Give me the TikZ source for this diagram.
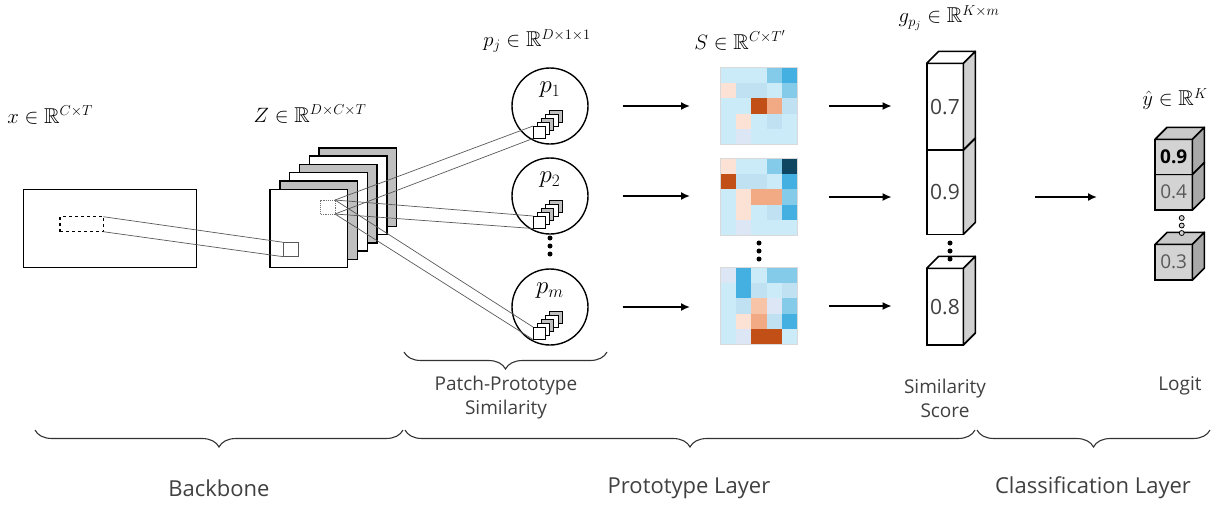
\documentclass[tikz,border=0pt]{standalone}
\usepackage{amssymb}
\usepackage[no-math]{fontspec}
\newfontfamily\lab{Open Sans}
\usetikzlibrary{arrows.meta,decorations.pathreplacing,calc}
\definecolor{hL}{HTML}{CCEBF9}
\definecolor{hM}{HTML}{C0E1F2}
\definecolor{hB}{HTML}{84CBEA}
\definecolor{hD}{HTML}{44B0E1}
\definecolor{hN}{HTML}{0E4561}
\definecolor{hP}{HTML}{FCE1D5}
\definecolor{hW}{HTML}{DCE6F4}
\definecolor{hO}{HTML}{C14F16}
\definecolor{hS}{HTML}{F2AA85}
\definecolor{hT}{HTML}{F7C4A8}
\definecolor{zg}{HTML}{BFBFBF}
\definecolor{txt}{HTML}{404040}
\definecolor{sideg}{HTML}{D0D0D0}
\definecolor{lgf}{HTML}{D3D3D3}
\definecolor{lgs}{HTML}{A9A9A9}
\definecolor{lgt}{HTML}{C9C9C9}
\tikzset{
  mlabel/.style={font=\fontsize{21.5}{24}\selectfont, inner sep=0},
  plabel/.style={font=\fontsize{25}{27}\selectfont, inner sep=0},
  tlabel/.style={font=\lab\fontsize{19}{24}\selectfont, text=txt, align=center, inner sep=0},
  blabel/.style={font=\lab\fontsize{22}{26}\selectfont, text=txt, inner sep=0},
  arr/.style={-{Latex[length=9pt,width=8pt]}, line width=1.8pt},
  thinln/.style={draw=black!65, line width=0.7pt},
  sheet/.style={draw, line width=1.4pt, minimum width=77.7pt, minimum height=78.4pt, inner sep=0, outer sep=0},
  hm/.style={minimum size=77.5pt, inner sep=0, outer sep=0},
  pcirc/.style={circle, draw, line width=1.4pt, minimum size=76pt, inner sep=0},
  psq/.style={draw, line width=1pt, fill=white, minimum size=12.5pt, inner sep=0, outer sep=0},
  bracedec/.style={decorate, decoration={brace, mirror, amplitude=17pt}, line width=1.1pt, draw=black!80},
  dotb/.style={circle, fill=black, inner sep=0, minimum size=5pt},
  doth/.style={circle, draw=black, fill=lgf, line width=0.8pt, inner sep=0, minimum size=5pt},
}
% name, x, y, width, height, front, side, top, text
\newcommand{\mycube}[9]{%
  \node[draw, line width=1.6pt, fill=#6, minimum width=#4, minimum height=#5, inner sep=0, outer sep=0] (#1) at (#2,#3) {#9};
  \draw[line width=1.6pt, line join=round, fill=#8] (#1.north west) -- ++(12,-12) -- ($(#1.north east)+(12,-12)$) -- (#1.north east) -- cycle;
  \draw[line width=1.6pt, line join=round, fill=#7] (#1.north east) -- ++(12,-12) -- ($(#1.south east)+(12,-12)$) -- (#1.south east) -- cycle;
}
\newcommand{\heatmap}[2]{%
  \foreach \row [count=\r from 0] in {#2} {
    \foreach \c [count=\k from 0] in \row {
      \fill[\c] ($(#1.north west)+(\k*15.5,\r*15.5)$) rectangle ++(15.5,15.5);
    }
  }
  \draw[black!15, line width=0.6pt] (#1.north west) rectangle (#1.south east);
}
\begin{document}
\begin{tikzpicture}[x=1pt,y=-1pt]
\useasboundingbox (0,0) rectangle (1217,504);

% ---------- input ----------
\node[mlabel] (xl) at (50,115) {$x \in \mathbb{R}^{C\times T}$};
\node[draw, line width=1.4pt, minimum width=173.4pt, minimum height=78.4pt, inner sep=0, outer sep=0] (xin) at (110,228.5) {};
\node[draw, dashed, line width=1.4pt, minimum width=43.3pt, minimum height=15pt, inner sep=0, outer sep=0] (xs) at (81.65,224.2) {};

% ---------- Z stack ----------
\node[mlabel] (zl) at (310,114) {$Z \in \mathbb{R}^{D\times C\times T}$};
\foreach \i/\f in {5/zg,4/white,3/zg,2/white,1/zg,0/white}
  \node[sheet, fill=\f] (z\i) at (308.85+9.8*\i, 228.5-8.3*\i) {};
\node[draw=black!65, line width=0.8pt, minimum width=15pt, minimum height=14.4pt, inner sep=0, outer sep=0] (zs) at (290.8,249.5) {};
\node[draw=black!55, densely dotted, line width=0.9pt, minimum width=14.3pt, minimum height=14pt, inner sep=0, outer sep=0] (zp) at (327.85,207) {};
\draw[thinln] (xs.north east) -- (zs.north west);
\draw[thinln] (xs.south east) -- (zs.south west);

% ---------- prototypes ----------
\node[mlabel] (pl) at (537,41) {$p_j \in \mathbb{R}^{D\times 1\times 1}$};
\foreach \k/\y/\lbl in {1/106/p_1, 2/196/p_2, 3/307/p_m} {
  \node[pcirc] (c\k) at (550,\y) {};
  \node[plabel] (cl\k) at ($(c\k)+(0,-16)$) {$\lbl$};
  \node[psq] (q\k) at ($(c\k)+(-10.75,26.25)$) {};
  \draw[thinln] (zp.north east) -- (q\k.north west);
  \draw[thinln] (zp.south east) -- (q\k.south west);
  \foreach \i/\f in {4/zg,3/white,2/zg,1/white}
    \draw[line width=0.9pt, fill=\f] ($(q\k.north west)+(4.2*\i,-3.9*\i)$) rectangle ++(12.5,12.5);
  \node[psq] at (q\k) {};
}
\foreach \d in {0,8,16} \node[dotb] at (550,238+\d) {};

% ---------- heatmaps ----------
\node[mlabel] (sl) at (740,40) {$S \in \mathbb{R}^{C\times T'}$};
\node[hm] (h1) at (758.8,106) {};
\node[hm] (h2) at (758.8,197) {};
\node[hm] (h3) at (758.8,306) {};
\heatmap{h1}{{hL,hL,hL,hB,hD},{hP,hM,hM,hL,hB},{hL,hL,hO,hS,hM},{hL,hP,hL,hM,hL},{hL,hW,hL,hL,hL}}
\heatmap{h2}{{hP,hL,hL,hB,hN},{hO,hM,hM,hL,hD},{hL,hP,hS,hS,hB},{hL,hP,hL,hM,hD},{hL,hW,hL,hL,hL}}
\heatmap{h3}{{hW,hD,hL,hB,hB},{hL,hD,hM,hL,hM},{hL,hM,hT,hW,hB},{hL,hP,hS,hM,hD},{hL,hW,hO,hO,hL}}
\foreach \d in {0,8,16} \node[dotb] at (759,243+\d) {};

\foreach \k in {1,2,3}
  \draw[arr, shorten <=34pt, shorten >=30pt] (c\k.east) -- (c\k.east -| h\k.west);

% ---------- similarity scores ----------
\node[mlabel] (gl) at (949,18) {$g_{p_j} \in \mathbb{R}^{K\times m}$};
\mycube{s3}{945}{306.7}{36.6pt}{76.7pt}{white}{sideg}{white}{\lab\fontsize{21}{22}\selectfont\color{txt}0.8}
\mycube{s2}{945}{192.2}{36.6pt}{84.3pt}{white}{sideg}{white}{\lab\fontsize{21}{22}\selectfont\color{txt}0.9}
\mycube{s1}{945}{106.7}{36.6pt}{86.7pt}{white}{sideg}{white}{\lab\fontsize{21}{22}\selectfont\color{txt}0.7}
\foreach \d in {0,8,16} \node[dotb] at (950,243+\d) {};

\foreach \k in {1,2,3}
  \draw[arr, shorten <=31.5pt, shorten >=35pt] (h\k.east) -- (h\k.east -| s\k.west);

% ---------- logits ----------
\node[mlabel] (yl) at (1175,99) {$\hat{y} \in \mathbb{R}^{K}$};
\mycube{l3}{1173.7}{262.2}{37.3pt}{35.7pt}{lgf}{lgs}{lgt}{\lab\fontsize{19}{20}\selectfont\color{black!65}0.3}
\mycube{l2}{1173.7}{192.2}{37.3pt}{35.7pt}{lgf}{lgs}{lgt}{\lab\fontsize{19}{20}\selectfont\color{black!65}0.4}
\mycube{l1}{1173.7}{156.8}{37.3pt}{35pt}{lgf}{lgs}{lgt}{\lab\bfseries\fontsize{19}{20}\selectfont 0.9}
\foreach \d in {0,7.5,15} \node[doth] at (1181.7,218+\d) {};

\draw[arr, shorten >=58pt] (h2.east -| s2.east) ++(72,0) -- (h2.east -| l2.west);

% ---------- braces and labels ----------
\draw[bracedec] (404,352) -- (607,352);
\node[tlabel] (pps) at (506,398) {Patch-Prototype\\Similarity};
\node[tlabel] (ss) at (945,398) {Similarity\\Score};
\node[tlabel] (lg) at (1180,386) {Logit};

\draw[bracedec] (35,430) -- (403,430);
\draw[bracedec] (405,430) -- (975,430);
\draw[bracedec] (977,430) -- (1210,430);
\node[blabel] (bb) at (219,488) {Backbone};
\node[blabel] (pt) at (689,488) {Prototype Layer};
\node[blabel] (cl) at (1093,488) {Classification Layer};
\end{tikzpicture}
\end{document}
